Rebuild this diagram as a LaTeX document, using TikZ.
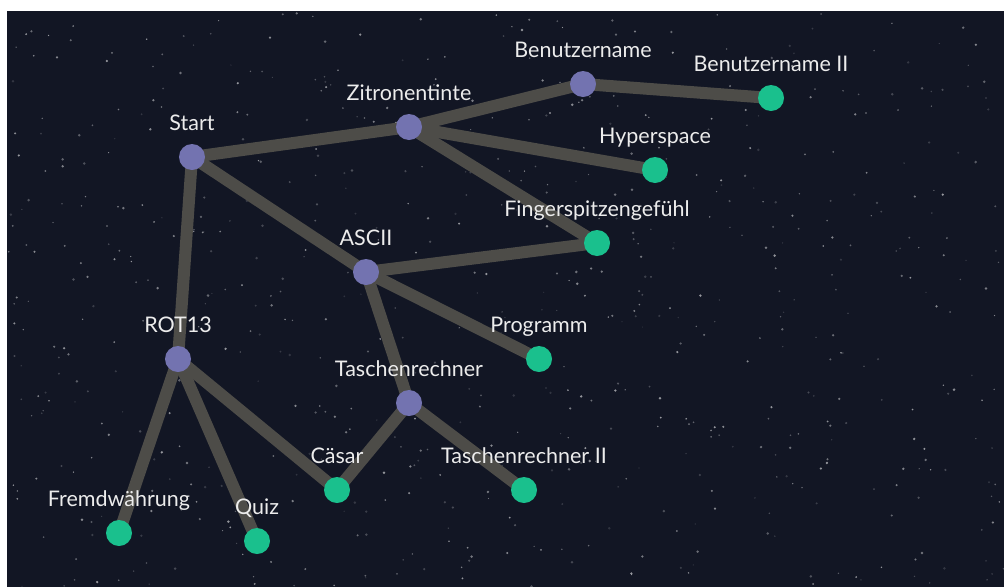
\documentclass[tikz,border=0pt]{standalone}
\usepackage{fontspec}
\setmainfont{Lato}
\usetikzlibrary{backgrounds}

\definecolor{sky}{HTML}{121624}
\definecolor{hubcol}{HTML}{7373B0}
\definecolor{leafcol}{HTML}{1AC08D}
\definecolor{linkcol}{HTML}{4D4C48}
\definecolor{txtcol}{HTML}{ECECEC}

\tikzset{
  dot/.style={circle, minimum size=26pt, inner sep=0pt,
              label={[lbl]above:#1}},
  hub/.style={dot=#1, fill=hubcol},
  leaf/.style={dot=#1, fill=leafcol},
  lbl/.style={font=\fontsize{21.5}{21.5}\selectfont, text=txtcol,
              text height=16pt, text depth=4.5pt, label distance=5pt},
  link/.style={draw=linkcol, line width=12pt}
}

\begin{document}
\begin{tikzpicture}[x=1pt, y=-1pt]
    \useasboundingbox (0,0) rectangle (1004,587);

    \node[hub=Start] (start) at (192,157) {};
    \node[hub=Zitronentinte] (zitrone) at (409,127) {};
    \node[hub=Benutzername] (user) at (583,84) {};
    \node[leaf=Benutzername II] (user2) at (771,98) {};
    \node[leaf=Hyperspace] (hyper) at (655,170) {};
    \node[leaf=Fingerspitzengefühl] (finger) at (597,243) {};
    \node[hub=ASCII] (ascii) at (366,272) {};
    \node[leaf=Programm] (prog) at (539,359) {};
    \node[hub=ROT13] (rot) at (178,359) {};
    \node[hub=Taschenrechner] (calc) at (409,403) {};
    \node[leaf=Cäsar] (caesar) at (337,490) {};
    \node[leaf=Taschenrechner II] (calc2) at (524,490) {};
    \node[leaf=Fremdwährung] (fremd) at (119,533) {};
    \node[leaf=Quiz] (quiz) at (257,541) {};

    \begin{pgfonlayer}{background}
      % sky
      \fill[sky] (7,11) rectangle (1004,587);
      \pgfmathsetseed{42}
      \foreach \i in {1,...,700} {
        \pgfmathsetmacro{\sx}{7+997*rnd}
        \pgfmathsetmacro{\sy}{11+576*rnd}
        \pgfmathsetmacro{\so}{0.12+0.45*rnd}
        \pgfmathsetmacro{\sr}{0.6+0.8*rnd}
        \fill[white, opacity=\so] (\sx,\sy) circle (\sr pt);
      }
      % tree
      \draw[link] (start.center) -- (zitrone.center);
      \draw[link] (start.center) -- (ascii.center);
      \draw[link] (start.center) -- (rot.center);
      \draw[link] (zitrone.center) -- (user.center);
      \draw[link] (zitrone.center) -- (hyper.center);
      \draw[link] (zitrone.center) -- (finger.center);
      \draw[link] (user.center) -- (user2.center);
      \draw[link] (ascii.center) -- (finger.center);
      \draw[link] (ascii.center) -- (prog.center);
      \draw[link] (ascii.center) -- (calc.center);
      \draw[link] (rot.center) -- (fremd.center);
      \draw[link] (rot.center) -- (quiz.center);
      \draw[link] (rot.center) -- (caesar.center);
      \draw[link] (calc.center) -- (caesar.center);
      \draw[link] (calc.center) -- (calc2.center);
    \end{pgfonlayer}
\end{tikzpicture}
\end{document}
